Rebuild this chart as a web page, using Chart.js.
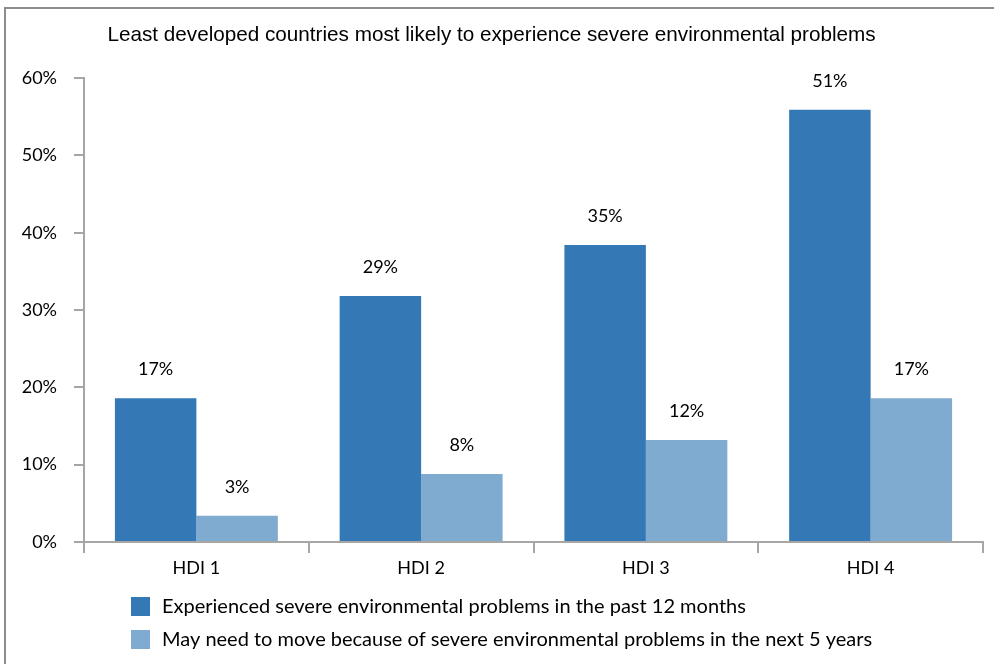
<!DOCTYPE html>
<html>
<head>
<meta charset="utf-8">
<script src="https://cdn.jsdelivr.net/npm/chart.js@4.4.1/dist/chart.umd.min.js"></script>
<style>
html,body{margin:0;padding:0;background:#fff;overflow:hidden}
#wrap{position:relative;width:994px;height:664px}
#frame{position:absolute;left:4px;top:7px;width:1000px;height:700px;border:2px solid #8c8c8c}
canvas{position:absolute;left:0;top:0}
</style>
</head>
<body>
<div id="wrap"><div id="frame"></div><canvas id="c" width="994" height="664"></canvas></div>
<script>
const categories=["HDI 1","HDI 2","HDI 3","HDI 4"];
const experienced=[18.6,31.8,38.4,55.9];
const mayMove=[3.4,8.8,13.2,18.6];
const experiencedLabels=["17%","29%","35%","51%"];
const mayMoveLabels=["3%","8%","12%","17%"];
const yMax=60, yStep=10;

const labelFont="18px Lato";
const legendFont="20px Lato";

/* value labels above bars */
const barLabels={
  id:"barLabels",
  afterDatasetsDraw(chart){
    const ctx=chart.ctx;
    ctx.save();
    ctx.font=labelFont;
    ctx.fillStyle="#000";
    ctx.textAlign="center";
    ctx.textBaseline="middle";
    chart.data.datasets.forEach((ds,i)=>{
      chart.getDatasetMeta(i).data.forEach((bar,j)=>{
        ctx.fillText(ds.valueLabels[j],bar.x,bar.y-29);
      });
    });
    ctx.restore();
  }
};

/* legend, one row per series, left aligned */
const listLegend={
  id:"listLegend",
  afterDraw(chart){
    const ctx=chart.ctx;
    ctx.save();
    ctx.font=legendFont;
    ctx.textBaseline="middle";
    chart.data.datasets.forEach((ds,i)=>{
      const y=597+i*33;
      ctx.fillStyle=ds.backgroundColor;
      ctx.fillRect(131,y,19,19);
      ctx.fillStyle="#000";
      ctx.fillText(ds.label,162,y+10);
    });
    ctx.restore();
  }
};

new Chart(document.getElementById("c"),{
  type:"bar",
  data:{
    labels:categories,
    datasets:[
      {
        label:"Experienced severe environmental problems in the past 12 months",
        data:experienced,
        valueLabels:experiencedLabels,
        backgroundColor:"#3479b5"
      },
      {
        label:"May need to move because of severe environmental problems in the next 5 years",
        data:mayMove,
        valueLabels:mayMoveLabels,
        backgroundColor:"#80abd0"
      }
    ]
  },
  options:{
    responsive:false,
    animation:false,
    layout:{padding:{left:0,right:11,top:0,bottom:0}},
    datasets:{bar:{categoryPercentage:0.725,barPercentage:1}},
    plugins:{
      legend:{display:false},
      tooltip:{enabled:false},
      title:{
        display:true,
        text:"Least developed countries most likely to experience severe environmental problems",
        color:"#000",
        font:{family:"Liberation Sans",size:20.7,weight:"normal"},
        padding:{top:23,bottom:30.2}
      }
    },
    scales:{
      x:{
        afterFit(s){s.height=122;},
        grid:{offset:true,drawOnChartArea:false,tickLength:11,color:"#a6a6a6",lineWidth:2},
        border:{color:"#a6a6a6",width:2},
        ticks:{color:"#000",font:{family:"Lato",size:18},padding:4}
      },
      y:{
        min:0,max:yMax,
        afterFit(s){s.width=84;},
        grid:{drawOnChartArea:false,tickLength:10,color:"#a6a6a6",lineWidth:2},
        border:{color:"#a6a6a6",width:2},
        ticks:{stepSize:yStep,color:"#000",font:{family:"Lato",size:18},padding:17,callback:v=>v+"%"}
      }
    }
  },
  plugins:[barLabels,listLegend]
});
</script>
</body>
</html>
